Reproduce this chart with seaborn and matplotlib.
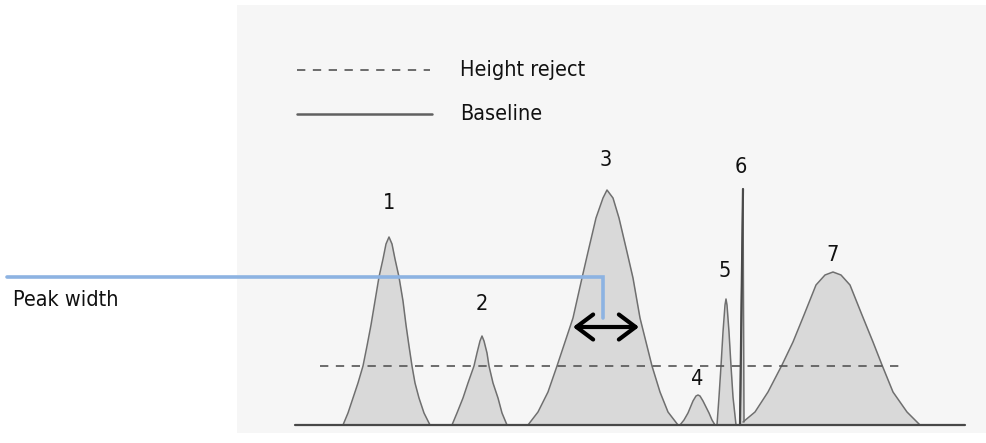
import numpy as np
import pandas as pd
import matplotlib
matplotlib.use("Agg")
import matplotlib.pyplot as plt
import seaborn as sns
from matplotlib import font_manager
from matplotlib.patches import Rectangle

# Peak outlines: x position and height above the baseline
peak1_x = [343, 348, 353, 358, 363, 367, 371, 375, 379, 383, 386, 389, 392, 395, 399, 403, 406, 409, 412, 415, 419, 424, 430]
peak1_h = [0, 12, 27, 42, 59, 79, 100, 124, 148, 166, 181, 188, 181, 166, 148, 124, 100, 79, 59, 42, 27, 12, 0]
peak2_x = [452, 457, 463, 468, 474, 477, 480, 482, 484, 487, 489, 493, 498, 502, 507]
peak2_h = [0, 12, 27, 42, 59, 72, 84, 89, 84, 72, 59, 42, 27, 12, 0]
peak3_x = [528, 538, 548, 557, 573, 582, 588, 596, 603, 607, 613, 619, 627, 633, 640, 652, 660, 668, 678]
peak3_h = [0, 13, 33, 59, 107, 147, 173, 207, 227, 235, 227, 207, 173, 147, 107, 59, 33, 13, 0]
peak4_x = [680, 684, 688, 693, 696, 698, 700, 703, 709, 712, 715]
peak4_h = [0, 5, 12, 24, 29, 30, 29, 24, 12, 5, 0]
peak5_x = [717, 719, 721, 723, 725, 726, 727, 729, 731, 733, 736]
peak5_h = [0, 28, 59, 93, 120, 126, 120, 93, 59, 28, 0]
peak6_x = [740, 743, 744]
peak6_h = [0, 236, 3]
peak7_x = [743, 755, 768, 782, 793, 804, 816, 825, 833, 841, 850, 862, 873, 882, 893, 907, 920]
peak7_h = [3, 13, 33, 60, 83, 110, 140, 150, 153, 150, 140, 110, 83, 60, 33, 13, 0]

peak_labels = ["1", "2", "3", "4", "5", "6", "7"]
label_x = [389, 482, 606, 697, 725, 741, 833]
label_h = [222, 121, 265, 46, 154, 258, 170]

baseline_x = [295, 965]
reject_x = [320, 903]
reject_h = 59

peaks = [(peak1_x, peak1_h), (peak2_x, peak2_h), (peak3_x, peak3_h), (peak4_x, peak4_h),
         (peak5_x, peak5_h), (peak6_x, peak6_h), (peak7_x, peak7_h)]
rows = []
for i, (xs, hs) in enumerate(peaks):
    for x, h in zip(xs, hs):
        rows.append({"peak": peak_labels[i], "x": x, "h": h})
df = pd.DataFrame(rows)

sns.set_style("white")

# a narrow face is closer to the original lettering, if one is around
font_size = 14
font_family = ["DejaVu Sans"]
font_stretch = "normal"
for fam in ["Liberation Sans Narrow", "DejaVu Sans"]:
    prop = font_manager.FontProperties(family=fam, stretch="condensed")
    try:
        path = font_manager.findfont(prop, fallback_to_default=False)
    except Exception:
        continue
    if "Narrow" in path or "Condensed" in path:
        font_family = [fam, "DejaVu Sans"]
        font_stretch = "condensed"
        font_size = 15.5
        break
plt.rcParams["font.family"] = font_family
text_kw = dict(fontsize=font_size, fontstretch=font_stretch, color="#111111")

fig = plt.figure(figsize=(9.86, 4.43), dpi=100)
ax = fig.add_axes([0, 0, 1, 1])
ax.set_xlim(0, 986)
ax.set_ylim(-18, 425)
ax.axis("off")

# grey panel behind the chromatogram
ax.add_patch(Rectangle((237, -8), 760, 428, facecolor="#f6f6f6", edgecolor="none", zorder=0))

# filled peaks
for xs, hs in peaks:
    ax.fill_between(xs, 0, hs, color="#d9d9d9", lw=0, zorder=1)
sns.lineplot(data=df, x="x", y="h", units="peak", estimator=None, sort=False,
             color="#6f6f6f", lw=1.1, ax=ax, zorder=2)
ax.plot(peak6_x[:2], peak6_h[:2], color="#4a4a4a", lw=1.6, zorder=3)

# baseline and height reject
ax.plot(baseline_x, [0, 0], color="#484848", lw=1.6, zorder=3)
ax.plot(reject_x, [reject_h, reject_h], color="#555555", lw=1.2,
        linestyle=(0, (5, 4.5)), zorder=3)

# peak numbers
for lab, x, h in zip(peak_labels, label_x, label_h):
    ax.text(x, h, lab, ha="center", va="center", **text_kw)

# legend drawn by hand
ax.plot([297, 430], [355, 355], color="#555555", lw=1.2, linestyle=(0, (5, 4.5)))
ax.plot([297, 432], [311, 311], color="#606060", lw=1.8)
ax.text(460, 355, "Height reject", ha="left", va="center", **text_kw)
ax.text(460, 311, "Baseline", ha="left", va="center", **text_kw)

# peak width callout
ax.plot([7, 603, 603], [148, 148, 107], color="#8db3e2", lw=2.6, zorder=4,
        solid_joinstyle="miter")
ax.text(13, 125, "Peak width", ha="left", va="center", **text_kw)
ax.annotate("", xy=(573, 98), xytext=(639, 98),
            arrowprops=dict(arrowstyle="<->,head_length=1.2,head_width=0.9",
                            lw=3, color="black", shrinkA=0, shrinkB=0), zorder=5)

fig.savefig("out.png", dpi=100)
